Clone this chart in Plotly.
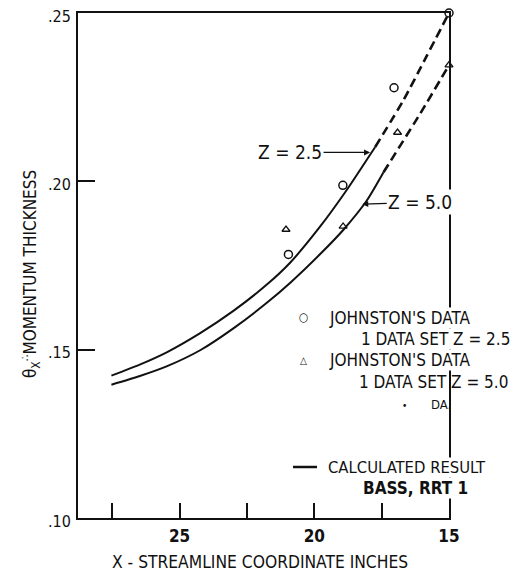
import plotly.graph_objects as go

# ---- data ----
# calculated result, Z = 2.5 (solid part, then dashed extrapolation)
calc25_x = [27.53, 26.5, 25.46, 24.22, 22.99, 21.75, 20.89, 19.78, 18.79, 17.74]
calc25_y = [0.1423, 0.1455, 0.1493, 0.1550, 0.1616, 0.1694, 0.1759, 0.1866, 0.1975, 0.2102]
extr25_x = [17.74, 16.69, 15.85, 15.0]
extr25_y = [0.2102, 0.2241, 0.2369, 0.2500]

# calculated result, Z = 5.0
calc50_x = [27.53, 26.5, 25.46, 24.22, 22.99, 21.75, 20.89, 19.78, 18.91, 18.05, 17.43]
calc50_y = [0.1396, 0.1421, 0.1451, 0.1499, 0.1564, 0.1640, 0.1699, 0.1784, 0.1857, 0.1943, 0.2027]
extr50_x = [17.43, 16.07, 15.0]
extr50_y = [0.2027, 0.2201, 0.2345]

# Johnston's data
data25_x = [20.96, 18.94, 17.04, 15.0]
data25_y = [0.1783, 0.1988, 0.2278, 0.2500]
data50_x = [21.05, 18.93, 16.91, 15.0]
data50_y = [0.1857, 0.1866, 0.2145, 0.2345]

x_tickvals = [27.5, 25, 22.5, 20, 17.5, 15]
x_ticktext = ["", "25", "", "20", "", "15"]
y_tickvals = [0.10, 0.15, 0.20, 0.25]
y_ticktext = [".10", ".15", ".20", ".25"]

# ---- layout geometry (page body has an 8px margin) ----
OFF = 8
W, H = 526 - OFF, 575 - OFF
L, T = 78 - OFF, 13 - OFF
PW, PH = 371, 505
R, B = W - L - PW, H - T - PH
FONT = "Liberation Sans Narrow, DejaVu Sans Condensed, Liberation Sans, sans-serif"
INK = "#111111"


def P(px, py):
    """window pixel -> paper coordinates"""
    return (px - OFF - L) / PW, (T + PH - (py - OFF)) / PH


fig = go.Figure()
solid = dict(color=INK, width=2, shape="spline", smoothing=0.6)
dash = dict(color=INK, width=2.6, dash="9px,5px", shape="spline", smoothing=0.6)
fig.add_trace(go.Scatter(x=calc25_x, y=calc25_y, mode="lines", line=solid))
fig.add_trace(go.Scatter(x=extr25_x, y=extr25_y, mode="lines", line=dash))
fig.add_trace(go.Scatter(x=calc50_x, y=calc50_y, mode="lines", line=solid))
fig.add_trace(go.Scatter(x=extr50_x, y=extr50_y, mode="lines", line=dash))
fig.add_trace(go.Scatter(x=data25_x, y=data25_y, mode="markers", cliponaxis=False,
                         marker=dict(symbol="circle-open", size=8, color=INK, line=dict(width=1.5))))
fig.add_trace(go.Scatter(x=data50_x, y=data50_y, mode="markers", cliponaxis=False,
                         marker=dict(symbol="triangle-up-open", size=7, color=INK, line=dict(width=1.3))))

annotations = []
# curve labels with arrows
annotations.append(dict(x=17.93, y=0.2086, xref="x", yref="y", text="Z = 2.5",
                        showarrow=True, ax=-80, ay=0, arrowhead=2, arrowsize=1, arrowwidth=1.2,
                        arrowcolor=INK, font=dict(size=19, family=FONT, color=INK)))
annotations.append(dict(x=18.22, y=0.1932, xref="x", yref="y", text="Z = 5.0",
                        showarrow=True, ax=58, ay=-2, arrowhead=2, arrowsize=1, arrowwidth=1.2,
                        arrowcolor=INK, bgcolor="white",
                        font=dict(size=19, family=FONT, color=INK)))


def txt(px, py, s, size=17, anchor="left", bg=None, bold=False):
    x, y = P(px, py)
    a = dict(x=x, y=y, xref="paper", yref="paper", text=("<b>%s</b>" % s) if bold else s,
             showarrow=False, xanchor=anchor, yanchor="middle",
             font=dict(size=size, family=FONT, color=INK), borderpad=0)
    if bg:
        a["bgcolor"] = bg
    annotations.append(a)


txt(303, 317, "○", size=12, anchor="center")
txt(328, 318, "JOHNSTON'S DATA", bg="white")
txt(360, 339, "1 DATA SET Z = 2.5", bg="white")
txt(303, 360, "△", size=10, anchor="center")
txt(328, 360, "JOHNSTON'S DATA", bg="white")
txt(358, 382, "1 DATA SET Z = 5.0")
txt(404, 405, "•", size=10, anchor="center")
txt(430, 404, "DA.", size=13)
txt(327, 467, "CALCULATED RESULT", size=16.5, bg="white")
txt(362, 488, "BASS, RRT 1", bg="white", bold=True)

# axis titles
tx, ty = P(30, 274)
annotations.append(dict(x=tx, y=ty, xref="paper", yref="paper", textangle=-90,
                        xanchor="center", yanchor="middle",
                        text="θ<sub>X</sub><sup>∴</sup>MOMENTUM THICKNESS", showarrow=False,
                        font=dict(size=17, family=FONT, color=INK)))
tx, ty = P(260, 562)
annotations.append(dict(x=tx, y=ty, xref="paper", yref="paper",
                        xanchor="center", yanchor="middle",
                        text="X - STREAMLINE COORDINATE INCHES", showarrow=False,
                        font=dict(size=17.3, family=FONT, color=INK)))

# legend line sample
x0, y0 = P(293, 467)
x1, _ = P(317, 467)
shapes = [dict(type="line", xref="paper", yref="paper", x0=x0, x1=x1, y0=y0, y1=y0,
               line=dict(color=INK, width=2.5))]

fig.update_layout(
    width=W, height=H,
    margin=dict(l=L, r=R, t=T, b=B, autoexpand=False),
    paper_bgcolor="white", plot_bgcolor="white",
    showlegend=False,
    annotations=annotations,
    shapes=shapes,
    xaxis=dict(range=[28.77, 15], tickvals=x_tickvals, ticktext=x_ticktext,
               ticks="inside", ticklen=15, tickwidth=1.5, tickcolor=INK,
               showline=True, linewidth=1.8, linecolor=INK, mirror=True,
               showgrid=False, zeroline=False, ticklabelstandoff=2,
               ticklabeloverflow="allow",
               tickfont=dict(size=17, family=FONT, color=INK, weight="bold")),
    yaxis=dict(range=[0.10, 0.25], tickvals=y_tickvals, ticktext=y_ticktext,
               ticks="inside", ticklen=17, tickwidth=1.5, tickcolor=INK,
               showline=True, linewidth=1.8, linecolor=INK, mirror=True,
               showgrid=False, zeroline=False, ticklabelstandoff=2,
               ticklabelshift=3, ticklabeloverflow="allow",
               tickfont=dict(size=16, family=FONT, color=INK)),
)

fig.write_html("out.html")
